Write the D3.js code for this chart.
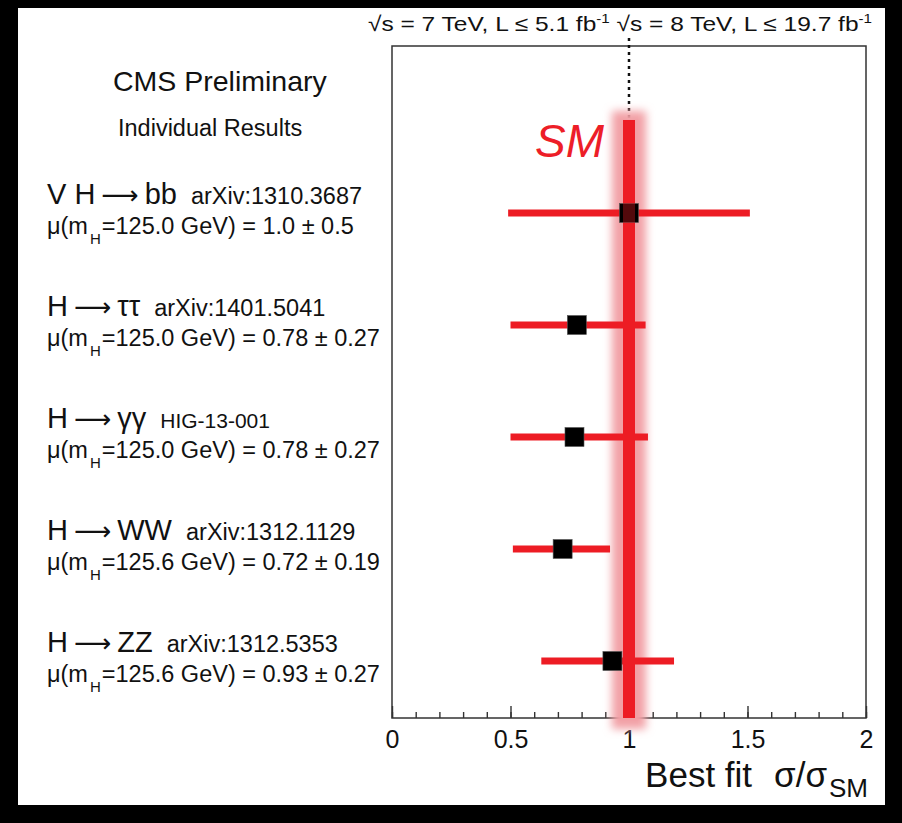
<!DOCTYPE html>
<html lang="en">
<head>
    <meta charset="UTF-8">
    <title>CMS individual results</title>
    <style>
        body { margin: 0; background: #000; }
        svg { display: block; font-family: "Liberation Sans", Arial, sans-serif; }
        .axis text { font-size: 25px; fill: #111; }
        .axis line { stroke: #333; stroke-width: 1.4; }
    </style>
</head>
<body>
    <script src="https://cdn.jsdelivr.net/npm/d3@7"></script>
    <script>

        var categories = ["V H \u2192 bb", "H \u2192 \u03c4\u03c4", "H \u2192 \u03b3\u03b3", "H \u2192 WW", "H \u2192 ZZ"];
        var references = ["arXiv:1310.3687", "arXiv:1401.5041", "HIG-13-001", "arXiv:1312.1129", "arXiv:1312.5353"];
        var massLabels = ["125.0", "125.0", "125.0", "125.6", "125.6"];
        var muLabels = ["1.0 \u00b1 0.5", "0.78 \u00b1 0.27", "0.78 \u00b1 0.27", "0.72 \u00b1 0.19", "0.93 \u00b1 0.27"];
        var muValues = [1.0, 0.78, 0.77, 0.72, 0.93];
        var errLow = [0.49, 0.50, 0.50, 0.51, 0.63];
        var errHigh = [1.51, 1.07, 1.08, 0.92, 1.19];
        var majorTicks = [0, 0.5, 1, 1.5, 2];
        var smValue = 1;

        var width = 902,
            height = 823;

        var svg = d3.select("body").append("svg")
            .attr("width", width)
            .attr("height", height);

        var defs = svg.append("defs");
        defs.append("filter").attr("id", "glow")
            .attr("x", "-50%").attr("y", "-10%").attr("width", "200%").attr("height", "120%")
            .append("feGaussianBlur").attr("stdDeviation", 4);

        // white page on black border
        svg.append("rect").attr("width", width).attr("height", height).attr("fill", "#000");
        svg.append("rect").attr("x", 18).attr("y", 8).attr("width", 867).attr("height", 797).attr("fill", "#fff");

        var x = d3.scaleLinear().domain([0, 2]).range([392, 866]);
        var y = d3.scalePoint().domain(categories).range([213, 661]);

        var frameTop = 46, frameBottom = 718;

        // axis: minor and major ticks pointing into the frame
        svg.append("g").attr("class", "axis").attr("transform", "translate(0," + frameBottom + ")")
            .call(d3.axisBottom(x).tickValues(d3.range(0, 2.001, 0.1)).tickSize(-6).tickFormat(""))
            .call(function(g) { g.selectAll(".domain").remove(); });
        svg.append("g").attr("class", "axis").attr("transform", "translate(0," + frameBottom + ")")
            .call(d3.axisBottom(x).tickValues(majorTicks).tickSize(-12).tickPadding(12).tickFormat(function(d) { return d; }))
            .call(function(g) { g.selectAll(".domain").remove(); });

        svg.append("rect")
            .attr("x", x(0)).attr("y", frameTop)
            .attr("width", x(2) - x(0)).attr("height", frameBottom - frameTop)
            .attr("fill", "none").attr("stroke", "#333").attr("stroke-width", 1.5);

        // SM band
        svg.append("line")
            .attr("x1", x(smValue)).attr("x2", x(smValue))
            .attr("y1", 38).attr("y2", 120)
            .attr("stroke", "#111").attr("stroke-width", 2.5).attr("stroke-dasharray", "3,4");

        svg.append("rect")
            .attr("x", x(smValue) - 17).attr("width", 34)
            .attr("y", 111).attr("height", 618)
            .attr("fill", "rgb(242,160,166)")
            .attr("filter", "url(#glow)");

        svg.append("line")
            .attr("x1", x(smValue)).attr("x2", x(smValue))
            .attr("y1", 120).attr("y2", frameBottom)
            .attr("stroke", "rgb(237,28,36)").attr("stroke-width", 12);

        svg.append("text")
            .attr("x", 535).attr("y", 157)
            .attr("font-size", 46).attr("font-style", "italic")
            .attr("fill", "rgb(237,30,40)")
            .text("SM");

        var idx = d3.range(categories.length);

        // error bars
        svg.selectAll(".err").data(idx).enter().append("line")
            .attr("class", "err")
            .attr("x1", function(i) { return x(errLow[i]); })
            .attr("x2", function(i) { return x(errHigh[i]); })
            .attr("y1", function(i) { return y(categories[i]); })
            .attr("y2", function(i) { return y(categories[i]); })
            .attr("stroke", "rgb(237,28,36)").attr("stroke-width", 7);

        // markers
        svg.selectAll(".mk").data(idx).enter().append("rect")
            .attr("class", "mk")
            .attr("x", function(i) { return x(muValues[i]) - 9.5; })
            .attr("y", function(i) { return y(categories[i]) - 9.5; })
            .attr("width", 19).attr("height", 19)
            .attr("fill", "#000").attr("stroke", "#555").attr("stroke-width", 0.6);

        // translucent SM line on top of markers
        svg.append("line")
            .attr("x1", x(smValue)).attr("x2", x(smValue))
            .attr("y1", 120).attr("y2", frameBottom)
            .attr("stroke", "rgb(237,28,36)").attr("stroke-width", 12).attr("opacity", 0.35);

        // labels
        var lab = svg.selectAll(".lab").data(idx).enter().append("g").attr("class", "lab")
            .attr("transform", function(i) { return "translate(47," + y(categories[i]) + ")"; });

        var t1 = lab.append("text").attr("y", -9).attr("fill", "#111").attr("font-size", 29);
        t1.append("tspan").text(function(i) { return categories[i].split(" \u2192 ")[0]; });
        t1.append("tspan").attr("dx", 6).attr("font-family", "DejaVu Sans").attr("font-size", 26)
            .text("\u27f6");
        t1.append("tspan").attr("dx", 6).text(function(i) { return categories[i].split(" \u2192 ")[1]; });
        t1.append("tspan").attr("dx", 14)
            .attr("font-size", function(i) { return references[i].indexOf("HIG") === 0 ? 21 : 23.5; })
            .text(function(i) { return references[i]; });

        var t2 = lab.append("text").attr("y", 21).attr("font-size", 23.5).attr("fill", "#111");
        t2.append("tspan").text("\u03bc(m");
        t2.append("tspan").attr("font-size", 15).attr("dx", 2).attr("dy", 10).text("H");
        t2.append("tspan").attr("dy", -10).attr("dx", 1).text(function(i) { return "=" + massLabels[i] + " GeV) = " + muLabels[i]; });

        svg.append("text").attr("x", 113).attr("y", 91)
            .attr("font-size", 28.5).attr("fill", "#111")
            .text("CMS Preliminary");

        svg.append("text").attr("x", 118).attr("y", 136)
            .attr("font-size", 23.5).attr("fill", "#111")
            .text("Individual Results");

        // energy / lumi header
        var hdr = svg.append("text").attr("x", 368).attr("y", 31)
            .attr("font-size", 21).attr("fill", "#111")
            .attr("textLength", 504).attr("lengthAdjust", "spacingAndGlyphs");
        hdr.append("tspan").text("\u221as = 7 TeV, L \u2264 5.1 fb");
        hdr.append("tspan").attr("dy", -8).attr("font-size", 13).text("-1");
        hdr.append("tspan").attr("dy", 8).text("  \u221as = 8 TeV, L \u2264 19.7 fb");
        hdr.append("tspan").attr("dy", -8).attr("font-size", 13).text("-1");

        // axis title
        var xt = svg.append("text").attr("x", 868).attr("y", 787)
            .attr("text-anchor", "end").attr("font-size", 35).attr("fill", "#111");
        xt.append("tspan").text("Best fit");
        xt.append("tspan").attr("dx", 22).text("\u03c3/\u03c3");
        xt.append("tspan").attr("dy", 10).attr("dx", 2).attr("font-size", 26).text("SM");

    </script>
</body>
</html>
